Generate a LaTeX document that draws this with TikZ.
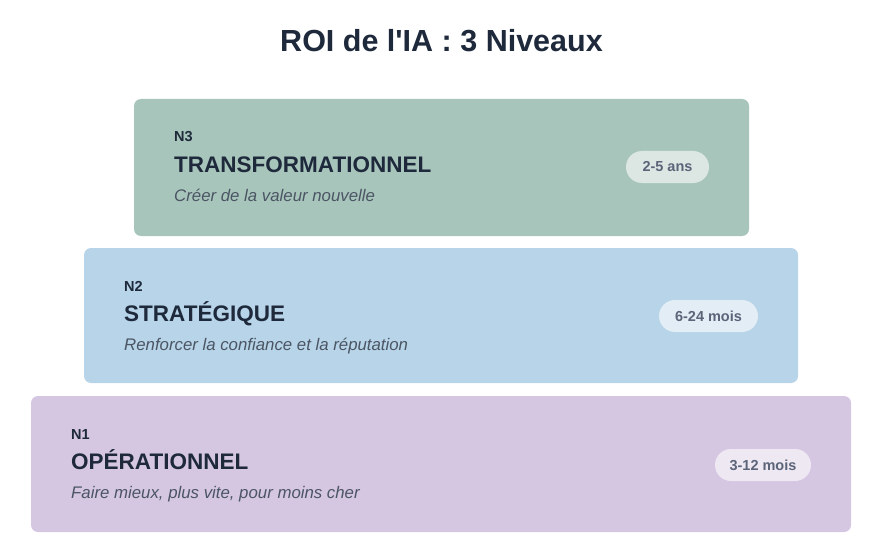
\documentclass[tikz,border=0pt]{standalone}
\usepackage{fontspec}
\setmainfont{Liberation Sans}
\definecolor{cTop}{HTML}{A8C5BC}
\definecolor{cMid}{HTML}{B7D4E8}
\definecolor{cBot}{HTML}{D5C6E2}
\definecolor{cDark}{HTML}{1E293B}
\definecolor{cGray}{HTML}{4B5563}
\definecolor{cBadge}{HTML}{5B6478}
\tikzset{
  lvl/.style={anchor=base west, inner sep=0pt, text=cDark, font=\fontsize{14.5}{14}\selectfont\bfseries},
  ttl/.style={anchor=base west, inner sep=0pt, text=cDark, font=\fontsize{22.5}{22}\selectfont\bfseries},
  desc/.style={anchor=base west, inner sep=0pt, text=cGray, font=\fontsize{16.8}{16}\selectfont\itshape},
  badge/.style={fill=white, fill opacity=0.6, text opacity=1, text=cBadge, rounded corners=16pt, inner sep=0pt, font=\fontsize{14.5}{14}\selectfont\bfseries},
}
\begin{document}
\begin{tikzpicture}[x=1pt,y=-1pt]
\useasboundingbox (0,0) rectangle (873,559);
\node[anchor=base, inner sep=0pt, text=cDark, font=\fontsize{30.5}{30}\selectfont\bfseries] (title) at (441.5,52) {ROI de l\textquotesingle IA : 3 Niveaux};
% top
\fill[cTop, rounded corners=7pt] (134,99) rectangle (749,236);
\node[lvl] (l3) at (174,142) {N3};
\node[ttl] (t3) at (174,172) {TRANSFORMATIONNEL};
\node[desc] (d3) at (174,201) {Créer de la valeur nouvelle};
\node[badge, minimum width=83pt, minimum height=32pt] (b3) at (667.5,167) {2-5 ans};
% middle
\fill[cMid, rounded corners=7pt] (84,248) rectangle (798,383);
\node[lvl] (l2) at (124,291) {N2};
\node[ttl] (t2) at (124,321) {STRATÉGIQUE};
\node[desc] (d2) at (124,350) {Renforcer la confiance et la réputation};
\node[badge, minimum width=99pt, minimum height=32pt] (b2) at (708.5,316) {6-24 mois};
% bottom
\fill[cBot, rounded corners=7pt] (31,396) rectangle (851,532);
\node[lvl] (l1) at (71,439) {N1};
\node[ttl] (t1) at (71,469) {OPÉRATIONNEL};
\node[desc] (d1) at (71,498) {Faire mieux, plus vite, pour moins cher};
\node[badge, minimum width=96pt, minimum height=32pt] (b1) at (763,465) {3-12 mois};
\end{tikzpicture}
\end{document}
